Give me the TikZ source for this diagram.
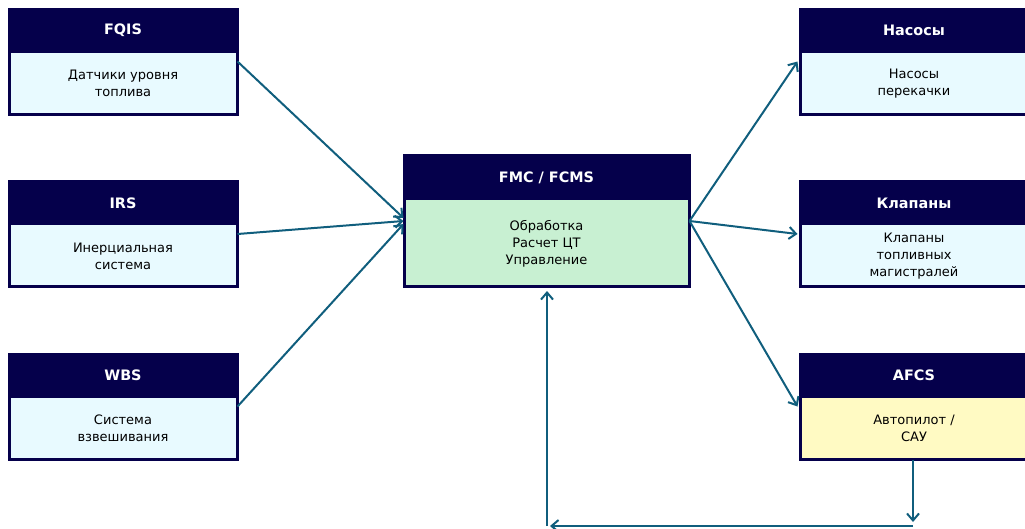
\documentclass[tikz,border=0pt]{standalone}
\usepackage{fontspec}
\setmainfont{DejaVu Sans}
\usetikzlibrary{arrows.meta,calc}

\definecolor{navy}{RGB}{5,0,75}
\definecolor{paleblue}{RGB}{232,250,255}
\definecolor{palegreen}{RGB}{200,240,210}
\definecolor{paleyellow}{RGB}{255,250,195}
\definecolor{flow}{RGB}{16,94,125}

\tikzset{
  sysbox/.style={draw=navy, line width=2pt, inner sep=0pt},
  headbar/.style={fill=navy, text=white, inner sep=0pt, anchor=north,
    font=\fontsize{14.4}{17}\selectfont\bfseries},
  bodytext/.style={align=center, font=\fontsize{13}{17}\selectfont},
  link/.style={-{Straight Barb[length=7pt,width=12pt]}, flow, line width=2pt},
}

% box: name, centre, width, height, header height, title, text, fill
\newcommand{\subsys}[8]{%
  \node[sysbox, fill=#8, minimum width=#3, minimum height=#4] (#1) at (#2) {};
  \node[headbar, minimum width=#3, minimum height=#5] (#1-head) at (#1.north) {#6};
  \node[bodytext] (#1-text) at ($(#1-head.south)!0.5!(#1.south)$) {#7};
  \draw[navy, line width=2pt] (#1.north west) rectangle (#1.south east);
}

\begin{document}
\begin{tikzpicture}[x=1pt, y=-1pt]

    \clip (0,0) rectangle (1025,528);
    \useasboundingbox (0,0) rectangle (1025,528);

    % Sensori
    \subsys{fqis}{123,61.5}{227pt}{104pt}{44pt}{FQIS}{Датчики уровня\\топлива}{paleblue}
    \subsys{irs}{123,234}{227pt}{104pt}{44pt}{IRS}{Инерциальная\\система}{paleblue}
    \subsys{wbs}{123,406.5}{227pt}{104pt}{44pt}{WBS}{Система\\взвешивания}{paleblue}

    % Computer centrale
    \subsys{fmc}{546.5,221}{284pt}{130pt}{45pt}{FMC / FCMS}{Обработка\\Расчет ЦТ\\Управление}{palegreen}

    % Attuatori
    \subsys{pumps}{914,61.5}{227pt}{104pt}{44pt}{Насосы}{Насосы\\перекачки}{paleblue}
    \subsys{valves}{914,234}{227pt}{104pt}{44pt}{Клапаны}{Клапаны\\топливных\\магистралей}{paleblue}
    \subsys{afcs}{914,406.5}{227pt}{104pt}{44pt}{AFCS}{Автопилот /\\САУ}{paleyellow}

    % Ingressi
    \draw[link] (fqis.east) -- ([yshift=3pt]fmc.west);
    \draw[link] (irs.east) -- (fmc.west);
    \draw[link] (wbs.east) -- ([yshift=-3pt]fmc.west);

    % Uscite
    \draw[link] (fmc.east) -- ([xshift=-2pt]pumps.west);
    \draw[link] (fmc.east) -- ([xshift=-2pt]valves.west);
    \draw[link] (fmc.east) -- ([xshift=-2pt]afcs.west);

    % Ritorno
    \coordinate (downEnd) at (913,522);
    \coordinate (cornerR) at (913,526);
    \coordinate (cornerL) at (550,526);
    \coordinate (upStart) at (547,526);
    \draw[link] (afcs.south -| downEnd) -- (downEnd);
    \draw[link] (cornerR) -- (cornerL);
    \draw[link] (upStart) -- ([yshift=-4pt]fmc.south -| upStart);

\end{tikzpicture}
\end{document}
